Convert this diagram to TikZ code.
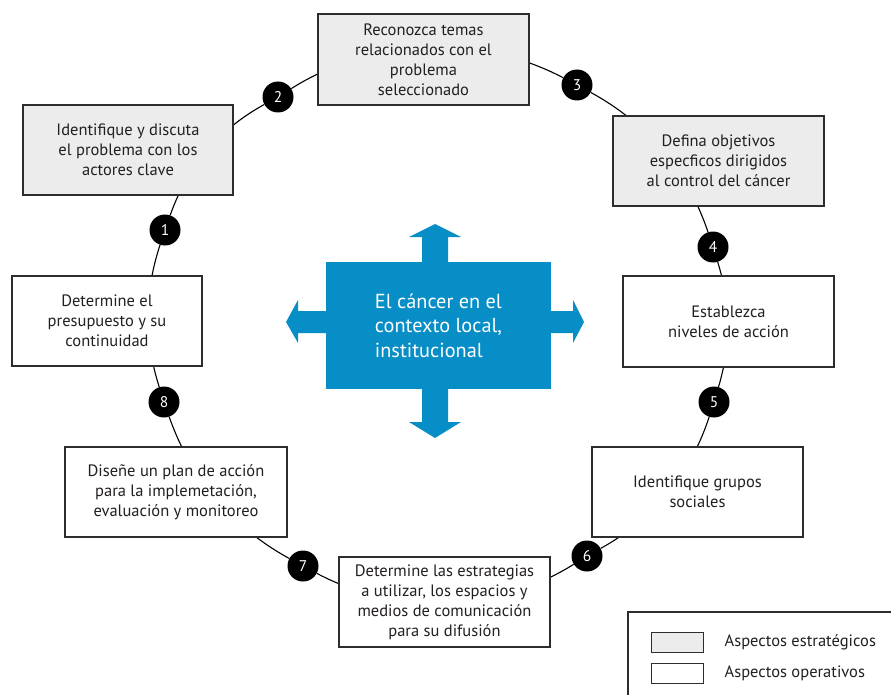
\documentclass[tikz,border=0pt]{standalone}
\usepackage{fontspec}
\setmainfont{PT Sans}
\usetikzlibrary{backgrounds,positioning}
\definecolor{ctxblue}{RGB}{8,142,198}
\definecolor{stratgray}{RGB}{235,236,235}
\definecolor{edgegray}{RGB}{45,45,45}
\definecolor{inkdark}{RGB}{35,31,32}

\begin{document}
\begin{tikzpicture}[x=1pt,y=-1pt,
  stepbox/.style={draw=edgegray, line width=1.3pt, align=center, inner sep=0pt,
    font=\fontsize{16.5}{20}\selectfont, text=inkdark},
  strat/.style={stepbox, fill=stratgray},
  oper/.style={stepbox, fill=white},
  num/.style={circle, fill=black, text=white, minimum size=31pt, inner sep=0pt,
    font=\fontsize{15.5}{15.5}\selectfont},
  link/.style={line width=1.1pt, black, bend left=#1, looseness=0.9},
  swatch/.style={draw=edgegray, line width=1pt, minimum width=52pt, minimum height=20pt, inner sep=0pt},
  legtext/.style={anchor=west, inner sep=0pt, font=\fontsize{16.5}{18}\selectfont, text=inkdark},
]
\useasboundingbox (0,0) rectangle (891,695);

% central block with its four arrows
\node[fill=ctxblue, minimum width=225pt, minimum height=127pt, inner sep=0pt,
      text=white, align=left, font=\fontsize{20.3}{24.5}\selectfont]
  (ctx) at (438.5,325.5) {El cáncer en el\\contexto local,\\institucional};
\fill[ctxblue] (422,263) -- (422,237) -- (409,237) -- (435,224) -- (461,237) -- (448,237) -- (448,263) -- cycle;
\fill[ctxblue] (422,388) -- (422,422) -- (409,422) -- (435,438) -- (461,422) -- (448,422) -- (448,388) -- cycle;
\fill[ctxblue] (327,311) -- (298,311) -- (298,300) -- (286,322) -- (298,343) -- (298,333) -- (327,333) -- cycle;
\fill[ctxblue] (550,311) -- (573,311) -- (573,300) -- (584,322) -- (573,343) -- (573,333) -- (550,333) -- cycle;

% steps of the cycle
\node[strat, minimum width=210pt, minimum height=90pt] (b1) at (128,150)
  {Identifique y discuta\\el problema con los\\actores clave};
\node[strat, minimum width=211pt, minimum height=91pt] (b2) at (423.5,59.5)
  {Reconozca temas\\relacionados con el\\problema\\seleccionado};
\node[strat, minimum width=211pt, minimum height=90pt] (b3) at (718.5,161)
  {Defina objetivos\\especficos dirigidos\\al control del cáncer};
\node[oper, minimum width=211pt, minimum height=91pt] (b4) at (728.5,321.5)
  {Establezca\\niveles de acción};
\node[oper, minimum width=211pt, minimum height=90pt] (b5) at (697.5,492)
  {Identifique grupos\\sociales};
\node[oper, minimum width=211pt, minimum height=90pt] (b6) at (444.5,602)
  {Determine las estrategias\\a utilizar, los espacios y\\medios de comunicación\\para su difusión};
\node[oper, minimum width=222pt, minimum height=90pt] (b7) at (176,492)
  {Diseñe un plan de acción\\para la implemetación,\\evaluación y monitoreo};
\node[oper, minimum width=190pt, minimum height=90pt] (b8) at (107,321)
  {Determine el\\presupuesto y su\\continuidad};

% numbered markers on the ring
\node[num] (n1) at (165,230) {1};
\node[num] (n2) at (278,97) {2};
\node[num] (n3) at (577,85) {3};
\node[num] (n4) at (713,247) {4};
\node[num] (n5) at (714,402) {5};
\node[num] (n6) at (587,556) {6};
\node[num] (n7) at (303,566) {7};
\node[num] (n8) at (164,402) {8};

% ring segments, hidden behind the boxes
\begin{pgfonlayer}{background}
\fill[white] (0,0) rectangle (891,695);
\draw[link=21] (n1) to (n2);
\draw[link=30] (n2) to (n3);
\draw[link=21.5] (n3) to (n4);
\draw[link=17] (n4) to (n5);
\draw[link=21.5] (n5) to (n6);
\draw[link=30] (n6) to (n7);
\draw[link=21] (n7) to (n8);
\draw[link=18] (n8) to (n1);
\end{pgfonlayer}

% legend frame, running off the lower and right edges
\coordinate (lg) at (628,612);
\draw[edgegray, line width=1.3pt] ([yshift=-100pt]lg) -- (lg) -- ([xshift=300pt]lg);
\node[swatch, fill=stratgray] (k1) at (677,642) {};
\node[swatch, fill=white] (k2) at (677,673.5) {};
\node[legtext, right=21pt of k1] (t1) {Aspectos estratégicos};
\node[legtext, right=21pt of k2] (t2) {Aspectos operativos};
\end{tikzpicture}
\end{document}
